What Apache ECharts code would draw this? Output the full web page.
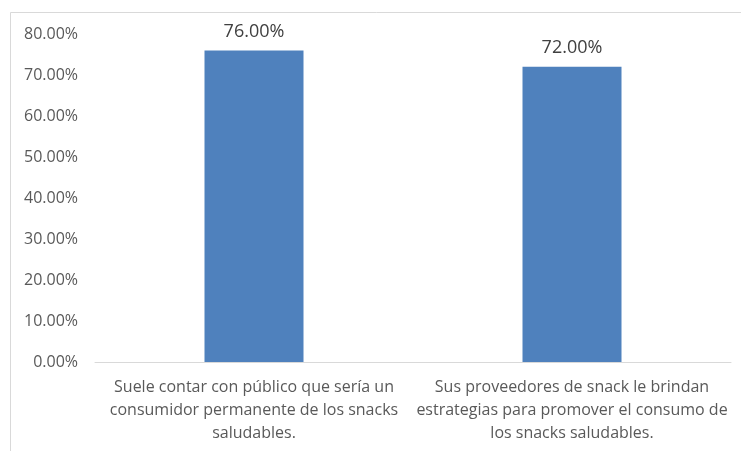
<!DOCTYPE html>
<html>
<head>
<meta charset="utf-8">
<script src="https://cdn.jsdelivr.net/npm/echarts@6/dist/echarts.min.js"></script>
<style>
  html, body { margin: 0; padding: 0; background: #fff; }
  #chart { width: 741px; height: 451px; }
</style>
</head>
<body>
<div id="chart"></div>
<script>
// Survey answers: share of respondents (in %)
const categories = [
  'Suele contar con público que sería un\nconsumidor permanente de los snacks\nsaludables.',
  'Sus proveedores de snack le brindan\nestrategias para promover el consumo de\nlos snacks saludables.'
];
const values = [76, 72];
const yMin = 0;
const yMax = 80;
const yStep = 10;

const FONT = '"Open Sans", Lato, sans-serif';
const chart = echarts.init(document.getElementById('chart'), null, { renderer: 'canvas' });

chart.setOption({
  animation: false,
  backgroundColor: '#ffffff',
  graphic: [{
    type: 'rect',
    left: 8, top: 10,
    shape: { width: 900, height: 900 },
    style: { fill: 'none', stroke: '#d9d9d9', lineWidth: 1 },
    silent: true, z: -1
  }],
  grid: { left: 95, right: 10, top: 34, bottom: 89, containLabel: false },
  xAxis: {
    type: 'category',
    data: categories,
    axisLine: { show: true, lineStyle: { color: '#d9d9d9', width: 1 } },
    axisTick: { show: false },
    axisLabel: {
      color: '#595959', fontFamily: FONT, fontSize: 16,
      lineHeight: 23, margin: 14, interval: 0, align: 'center'
    }
  },
  yAxis: {
    type: 'value',
    min: yMin, max: yMax, interval: yStep,
    axisLine: { show: false },
    axisTick: { show: false },
    splitLine: { show: false },
    axisLabel: {
      color: '#595959', fontFamily: FONT, fontSize: 16, margin: 17,
      formatter: v => v.toFixed(2) + '%'
    }
  },
  series: [{
    type: 'bar',
    data: values,
    barWidth: 99,
    itemStyle: { color: '#4f81bd' },
    label: {
      show: true, position: 'top', distance: 10,
      color: '#404040', fontFamily: FONT, fontSize: 18,
      formatter: p => p.value.toFixed(2) + '%'
    }
  }]
});
</script>
</body>
</html>
